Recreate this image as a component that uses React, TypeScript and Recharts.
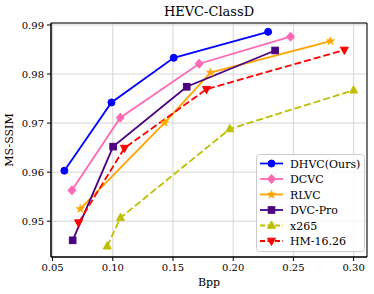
import { LineChart, Line, XAxis, YAxis, CartesianGrid, Legend, ReferenceArea } from 'recharts';

const bppTicks = [0.05, 0.1, 0.15, 0.2, 0.25, 0.3];
const ssimTicks = [0.95, 0.96, 0.97, 0.98, 0.99];

const dhvcBpp = [0.0598, 0.0989, 0.1506, 0.229];
const dhvcSsim = [0.9603, 0.9742, 0.9833, 0.9886];
const dcvcBpp = [0.0661, 0.1062, 0.1717, 0.2476];
const dcvcSsim = [0.9563, 0.9711, 0.9821, 0.9876];
const rlvcBpp = [0.073, 0.1431, 0.1812, 0.2808];
const rlvcSsim = [0.9525, 0.9701, 0.9803, 0.9867];
const dvcProBpp = [0.0667, 0.1003, 0.1614, 0.2348];
const dvcProSsim = [0.9461, 0.9652, 0.9774, 0.9848];
const x265Bpp = [0.0954, 0.1064, 0.1972, 0.3];
const x265Ssim = [0.9449, 0.9507, 0.9688, 0.9767];
const hmBpp = [0.0716, 0.1097, 0.1778, 0.2923];
const hmSsim = [0.9497, 0.9649, 0.9769, 0.9849];

const FONT = "'DejaVu Serif', serif";

const series = [
  { name: 'DHVC(Ours)', bpp: dhvcBpp, ssim: dhvcSsim, color: '#0000ff', shape: 'circle', dashed: false },
  { name: 'DCVC', bpp: dcvcBpp, ssim: dcvcSsim, color: '#ff69b4', shape: 'diamond', dashed: false },
  { name: 'RLVC', bpp: rlvcBpp, ssim: rlvcSsim, color: '#ffa500', shape: 'star', dashed: false },
  { name: 'DVC-Pro', bpp: dvcProBpp, ssim: dvcProSsim, color: '#4b0082', shape: 'square', dashed: false },
  { name: 'x265', bpp: x265Bpp, ssim: x265Ssim, color: '#bfbf00', shape: 'triUp', dashed: true },
  { name: 'HM-16.26', bpp: hmBpp, ssim: hmSsim, color: '#ff0000', shape: 'triDown', dashed: true },
];

function Marker({ shape, cx, cy, color }: { shape: string; cx: number; cy: number; color: string }) {
  if (cx == null || cy == null) return null;
  switch (shape) {
    case 'circle':
      return <circle cx={cx} cy={cy} r={3.5} fill={color} stroke={color} />;
    case 'diamond':
      return <polygon points={`${cx},${cy - 4.5} ${cx + 4},${cy} ${cx},${cy + 4.5} ${cx - 4},${cy}`} fill={color} stroke={color} />;
    case 'star': {
      const pts: string[] = [];
      for (let i = 0; i < 10; i++) {
        const r = i % 2 === 0 ? 4.5 : 1.9;
        const a = -Math.PI / 2 + (i * Math.PI) / 5;
        pts.push(`${cx + r * Math.cos(a)},${cy + r * Math.sin(a)}`);
      }
      return <polygon points={pts.join(' ')} fill={color} stroke={color} strokeWidth={0.5} />;
    }
    case 'square':
      return <rect x={cx - 3.3} y={cy - 3.3} width={6.6} height={6.6} fill={color} stroke={color} />;
    case 'triUp':
      return <polygon points={`${cx},${cy - 4.5} ${cx + 4},${cy + 2.8} ${cx - 4},${cy + 2.8}`} fill={color} stroke={color} />;
    case 'triDown':
      return <polygon points={`${cx},${cy + 4.5} ${cx + 4},${cy - 2.8} ${cx - 4},${cy - 2.8}`} fill={color} stroke={color} />;
    default:
      return null;
  }
}

function LegendBox(props: any) {
  const names = (props.payload || []).map((e: any) => e.value);
  const items = series.filter(s => names.includes(s.name));
  return (
    <svg width={109} height={98} style={{ display: 'block' }}>
      <rect x={0.5} y={0.5} width={108} height={97} rx={3} fill="#fff" fillOpacity={0.8} stroke="#cccccc" />
      {items.map((s, i) => {
        const y = 9.5 + i * 15.5;
        return (
          <g key={s.name}>
            <line x1={4} x2={27} y1={y} y2={y} stroke={s.color} strokeWidth={1.8} strokeDasharray={s.dashed ? '5 2.5' : undefined} />
            <Marker shape={s.shape} cx={15.5} cy={y} color={s.color} />
            <text x={34} y={y + 4} fontFamily={FONT} fontSize={11} fill="#000">{s.name}</text>
          </g>
        );
      })}
    </svg>
  );
}

export default function App() {
  return (
    <div style={{ position: 'absolute', left: 0, top: 0, width: 374, height: 294, background: '#fff' }}>
      <div style={{ position: 'absolute', left: 51, top: 4, width: 316, textAlign: 'center', fontFamily: FONT, fontSize: 13, lineHeight: '15px', color: '#000' }}>
        HEVC-ClassD
      </div>
      <LineChart width={374} height={294} margin={{ top: 23, right: 7, bottom: 0, left: 0 }}>
        <CartesianGrid stroke="#d0d0d0" strokeWidth={0.9} />
        <XAxis
          type="number"
          dataKey="bpp"
          domain={[0.0487, 0.3111]}
          ticks={bppTicks}
          allowDataOverflow
          height={37}
          tickFormatter={(v: number) => v.toFixed(2)}
          tick={{ fontFamily: FONT, fontSize: 10, fill: '#000' }}
          tickSize={4}
          tickMargin={3}
          stroke="#000"
          label={{ value: 'Bpp', position: 'insideBottom', offset: 8, style: { fontFamily: FONT, fontSize: 11, fill: '#000' } }}
        />
        <YAxis
          type="number"
          dataKey="ssim"
          domain={[0.9427, 0.9904]}
          ticks={ssimTicks}
          allowDataOverflow
          width={51}
          tickFormatter={(v: number) => v.toFixed(2)}
          tick={{ fontFamily: FONT, fontSize: 10, fill: '#000' }}
          tickSize={4}
          tickMargin={3}
          stroke="#000"
          label={{ value: 'MS-SSIM', angle: -90, position: 'insideLeft', offset: 9, style: { textAnchor: 'middle', fontFamily: FONT, fontSize: 11, fill: '#000' } }}
        />
        <ReferenceArea x1={0.0487} x2={0.3111} y1={0.9427} y2={0.9904} fill="none" stroke="#000" strokeWidth={1} />
        {series.map(s => (
          <Line
            key={s.name}
            name={s.name}
            data={s.bpp.map((b, i) => ({ bpp: b, ssim: s.ssim[i] }))}
            dataKey="ssim"
            type="linear"
            stroke={s.color}
            strokeWidth={1.8}
            strokeDasharray={s.dashed ? '7 3' : undefined}
            dot={(p: any) => <Marker key={`${s.name}-${p.index}`} shape={s.shape} cx={p.cx} cy={p.cy} color={s.color} />}
            activeDot={false}
            isAnimationActive={false}
          />
        ))}
        <Legend
          layout="vertical"
          align="center"
          verticalAlign="middle"
          content={LegendBox}
          wrapperStyle={{ position: 'absolute', left: 256, top: 154, width: 109, height: 98 }}
        />
      </LineChart>
    </div>
  );
}
